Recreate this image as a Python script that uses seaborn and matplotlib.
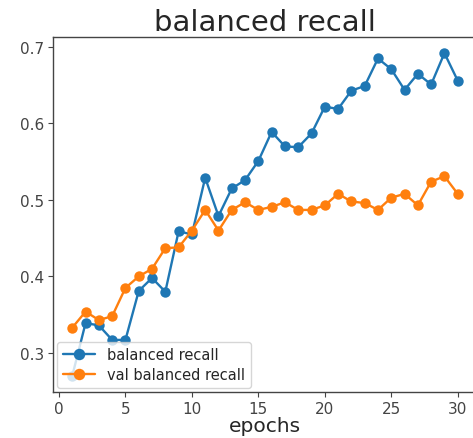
import matplotlib
matplotlib.use("Agg")
import matplotlib.pyplot as plt
import seaborn as sns
import pandas as pd

epochs = list(range(1, 31))
balanced_recall = [0.270, 0.339, 0.336, 0.317, 0.317, 0.381, 0.398, 0.380, 0.459, 0.455,
                   0.529, 0.479, 0.515, 0.526, 0.551, 0.589, 0.570, 0.569, 0.587, 0.622,
                   0.619, 0.643, 0.649, 0.685, 0.671, 0.644, 0.665, 0.651, 0.692, 0.656]
val_balanced_recall = [0.333, 0.354, 0.343, 0.348, 0.385, 0.400, 0.410, 0.437, 0.438, 0.460,
                       0.487, 0.460, 0.487, 0.497, 0.487, 0.491, 0.497, 0.487, 0.487, 0.493,
                       0.508, 0.498, 0.496, 0.487, 0.503, 0.508, 0.493, 0.524, 0.531, 0.508]

sns.set_style("white")
plt.rcParams['font.family'] = ['DejaVu Sans']

fig = plt.figure(figsize=(4.73, 4.39), dpi=100)
ax = fig.add_axes([53/473, 1-393/439, (477-53)/473, (393-38)/439])

df1 = pd.DataFrame({"epoch": epochs, "value": balanced_recall})
df2 = pd.DataFrame({"epoch": epochs, "value": val_balanced_recall})
sns.lineplot(data=df1, x="epoch", y="value", ax=ax, marker="o", markersize=7.5,
             markeredgewidth=0, linewidth=1.7, color="#1f77b4", label="balanced recall")
sns.lineplot(data=df2, x="epoch", y="value", ax=ax, marker="o", markersize=7.5,
             markeredgewidth=0, linewidth=1.7, color="#ff7f0e", label="val balanced recall")

ax.set_title("balanced recall", fontsize=21, pad=5)
ax.set_xlabel("epochs", fontsize=14.5, labelpad=0)
ax.set_ylabel("")
ax.set_xticks([0, 5, 10, 15, 20, 25, 30])
ax.set_yticks([0.3, 0.4, 0.5, 0.6, 0.7])
ax.tick_params(axis="both", labelsize=11, length=3.5, width=0.8, direction="out",
               bottom=True, left=True, colors="#444444", pad=3)
ax.spines["right"].set_visible(False)
for s in ax.spines.values():
    s.set_color("#444444")
    s.set_linewidth(1.0)
ax.legend(loc="lower left", fontsize=10.5, frameon=True, borderaxespad=0.3,
          handlelength=2.2, labelspacing=0.3, markerscale=1.1)

fig.savefig("out.png", dpi=100)
